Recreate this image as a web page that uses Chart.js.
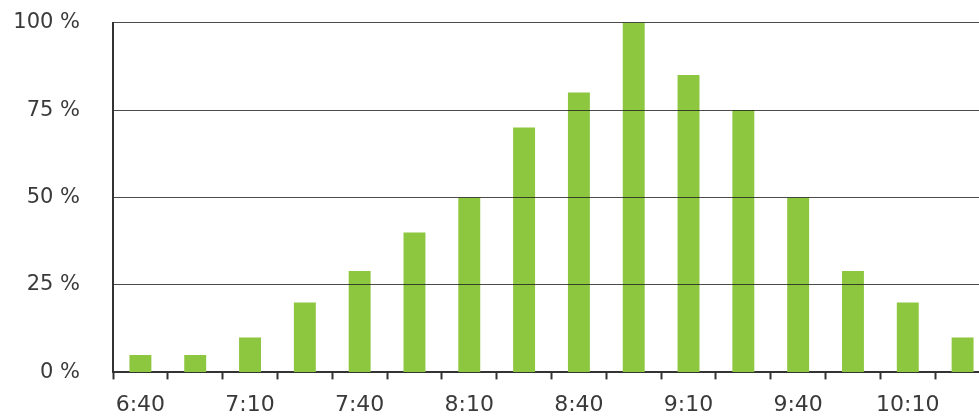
<!DOCTYPE html>
<html>
<head>
<meta charset="utf-8">
<script src="https://cdn.jsdelivr.net/npm/chart.js@4/dist/chart.umd.min.js"></script>
<style>
html,body{margin:0;padding:0;background:#fff;overflow:hidden;}
#wrap{position:absolute;left:0;top:-23px;width:1000px;height:441px;}
</style>
</head>
<body>
<div id="wrap"><canvas id="c"></canvas></div>
<script>
const categories = ['6:40','6:55','7:10','7:25','7:40','7:55','8:10','8:25','8:40','8:55','9:10','9:25','9:40','9:55','10:10','10:25'];
const values = [5,5,10,20,29,40,50,70,80,100,85,75,50,29,20,10];
const yTicks = [0,25,50,75,100];

const txt = '#3a3a3a';
new Chart(document.getElementById('c'), {
  type: 'bar',
  data: {
    labels: categories,
    datasets: [{
      data: values,
      backgroundColor: '#8dc63f',
      borderWidth: 0,
      barPercentage: 0.4,
      categoryPercentage: 1.0
    }]
  },
  options: {
    responsive: true,
    maintainAspectRatio: false,
    animation: false,
    layout: { padding: { top: 0, right: 10, left: 0, bottom: 0 } },
    plugins: { legend: { display: false }, tooltip: { enabled: false } },
    scales: {
      x: {
        offset: true,
        afterFit: s => { s.height = 45; },
        border: { display: true, color: '#333', width: 2 },
        grid: { display: true, offset: true, drawOnChartArea: false, drawTicks: true, tickLength: 7, tickWidth: 2, tickColor: '#333' },
        ticks: {
          autoSkip: false, maxRotation: 0, minRotation: 0, padding: 13,
          color: txt, font: { family: 'DejaVu Sans', size: 22 },
          callback: function(v, i) { return i % 2 === 0 ? categories[i] : ''; }
        }
      },
      y: {
        min: 0, max: 100,
        afterFit: s => { s.width = 113; },
        afterBuildTicks: s => { s.ticks = yTicks.map(v => ({ value: v })); },
        border: { display: true, color: '#333', width: 2, z: 1 },
        grid: {
          z: 1, drawTicks: false, lineWidth: 1,
          color: ctx => ctx.tick && ctx.tick.value === 0 ? 'rgba(0,0,0,0)' : 'rgba(30,30,30,0.8)'
        },
        ticks: {
          padding: 33, color: txt, font: { family: 'DejaVu Sans', size: 21 },
          callback: v => v + ' %'
        }
      }
    }
  }
});
</script>
</body>
</html>
